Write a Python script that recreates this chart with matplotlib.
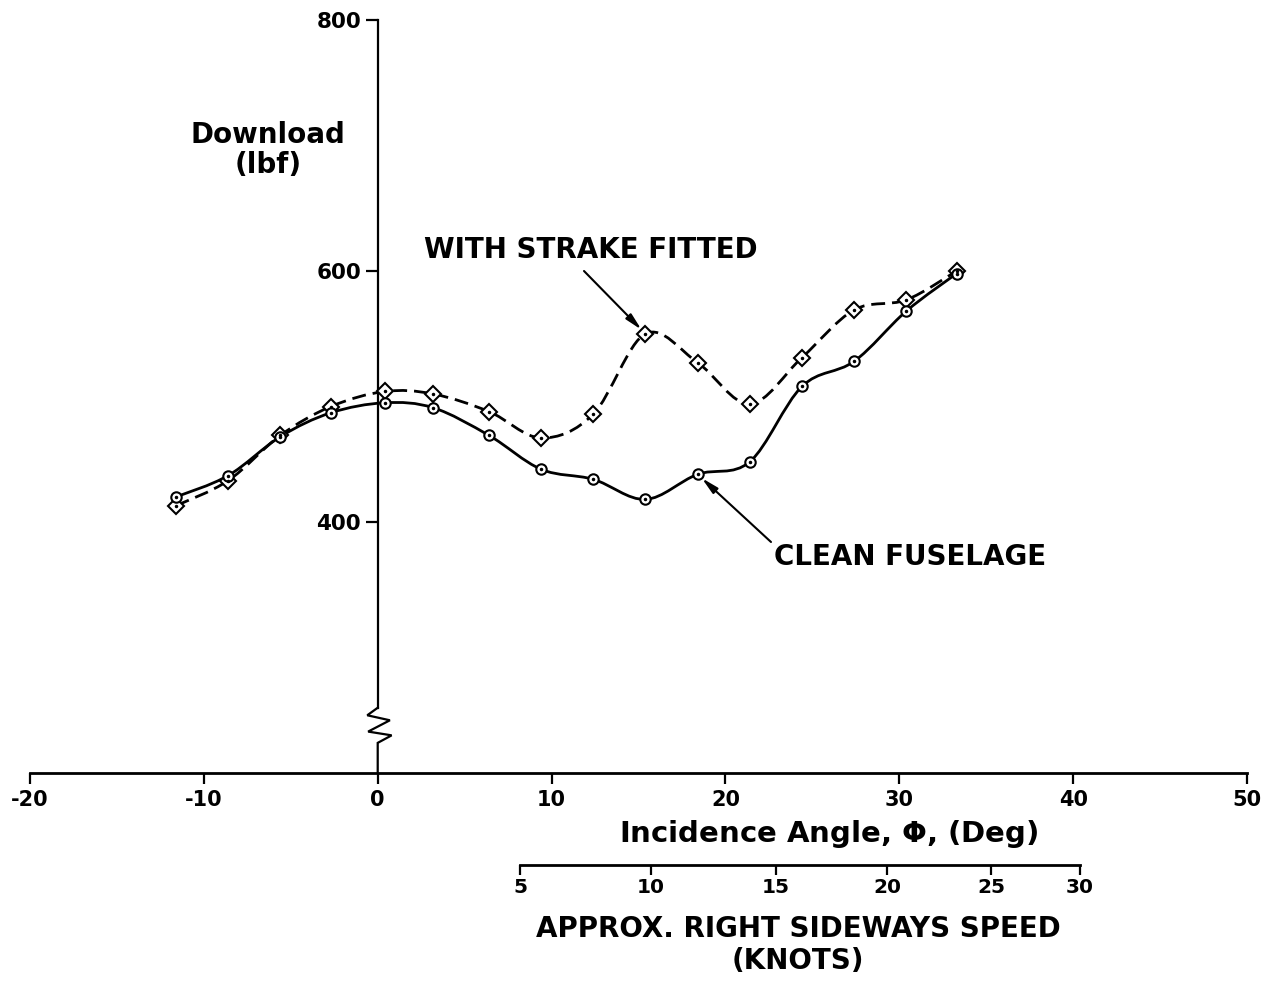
import numpy as np
import matplotlib
matplotlib.use('Agg')
import matplotlib.pyplot as plt
from matplotlib.path import Path
from matplotlib.patches import PathPatch

# incidence angle (deg)
angle = [-11.6, -8.6, -5.6, -2.7, 0.4, 3.2, 6.4, 9.4, 12.4, 15.4, 18.4, 21.4, 24.4, 27.4, 30.4, 33.3]
# download (lbf)
clean = [420, 437, 468, 487, 495, 491, 469, 442, 434, 418, 438, 448, 508, 528, 568, 598]
strake = [413, 433, 469, 492, 504, 502, 488, 467, 486, 550, 527, 494, 531, 569, 577, 600]

xticks = [-20, -10, 0, 10, 20, 30, 40, 50]
yticks = [400, 600, 800]
# sideways speed scale (knots) and where each sits on the angle axis
knots = [5, 10, 15, 20, 25, 30]
knot_angle = [8.2, 15.7, 22.9, 29.3, 35.3, 40.4]

W, H = 1273, 982
plt.rcParams['font.family'] = 'DejaVu Sans'
plt.rcParams['font.weight'] = 'bold'
plt.rcParams['axes.unicode_minus'] = False
fig = plt.figure(figsize=(W / 100, H / 100), dpi=100)


def fx(px):
    return px / W


def fy(py):
    return 1 - py / H


ax = fig.add_axes([fx(30), fy(773), fx(1247) - fx(30), fy(20) - fy(773)])
ax.set_xlim(-20, 50)
ax.set_ylim(200, 800)
for s in ['top', 'right']:
    ax.spines[s].set_visible(False)
ax.spines['bottom'].set_linewidth(2)
ax.spines['left'].set_position(('data', 0))
ax.spines['left'].set_bounds(252, 800)
ax.spines['left'].set_linewidth(1.6)
ax.set_xticks(xticks)
ax.set_yticks(yticks)
ax.tick_params(axis='x', direction='out', length=8, width=1.6, labelsize=15, pad=4)
ax.tick_params(axis='y', direction='out', length=9, width=1.6, labelsize=15.5, pad=3)
for lab in ax.get_xticklabels() + ax.get_yticklabels():
    lab.set_fontweight('bold')

# axis break (zigzag) on the vertical axis
zx = [0, -0.6, 0.7, -0.55, 0.8, 0, 0]
zy = [252, 246, 242, 233, 230, 224, 200]
ax.plot(zx, zy, color='black', lw=1.6, clip_on=False, solid_joinstyle='miter')


def smooth_path(xs, ys):
    # Catmull-Rom through the points, drawn as cubic Bezier segments
    p = np.column_stack([xs, ys]).astype(float)
    pts = np.vstack([p[0], p, p[-1]])
    verts = [p[0]]
    codes = [Path.MOVETO]
    for i in range(1, len(pts) - 2):
        c1 = pts[i] + (pts[i + 1] - pts[i - 1]) / 6
        c2 = pts[i + 1] - (pts[i + 2] - pts[i]) / 6
        verts += [c1, c2, pts[i + 1]]
        codes += [Path.CURVE4] * 3
    return Path(verts, codes)


ax.add_patch(PathPatch(smooth_path(angle, clean), fill=False, lw=2, color='black'))
ax.add_patch(PathPatch(smooth_path(angle, strake), fill=False, lw=2, color='black',
                       linestyle=(0, (5, 2.5))))

ax.plot(angle, strake, 'D', ms=8, mfc='white', mec='black', mew=1.5, zorder=3)
ax.plot(angle, strake, '.', ms=3, color='black', zorder=4)
ax.plot(angle, clean, 'o', ms=7.5, mfc='white', mec='black', mew=1.5, zorder=3)
ax.plot(angle, clean, '.', ms=3, color='black', zorder=4)

# labels
fig.text(fx(268), fy(150), 'Download\n(lbf)', ha='center', va='center',
         fontsize=20, fontweight='bold', linespacing=1.05)
fig.text(fx(591), fy(250), 'WITH STRAKE FITTED', ha='center', va='center',
         fontsize=20, fontweight='bold')
fig.text(fx(910), fy(557), 'CLEAN FUSELAGE', ha='center', va='center',
         fontsize=20, fontweight='bold')
fig.text(fx(829), fy(834), 'Incidence Angle, $\\mathbf{\\Phi}$, (Deg)', ha='center', va='center',
         fontsize=21, fontweight='bold')
fig.text(fx(798), fy(945), 'APPROX. RIGHT SIDEWAYS SPEED\n(KNOTS)', ha='center', va='center',
         fontsize=20, fontweight='bold', linespacing=1.15)

arrow = dict(arrowstyle='-|>,head_length=1.0,head_width=0.22', lw=1.5, color='black',
             shrinkA=0, shrinkB=4)
ax.annotate('', xy=(angle[9], strake[9]), xytext=(fx(584), fy(271)),
            textcoords='figure fraction', arrowprops=arrow)
ax.annotate('', xy=(angle[10], clean[10]), xytext=(fx(771), fy(542)),
            textcoords='figure fraction', arrowprops=arrow)

# sideways speed scale
ax2 = fig.add_axes([fx(30), fy(866), fx(1247) - fx(30), 0.001])
ax2.set_xlim(-20, 50)
ax2.patch.set_visible(False)
for s in ['top', 'right', 'left']:
    ax2.spines[s].set_visible(False)
ax2.spines['bottom'].set_position(('axes', 1.0))
ax2.spines['bottom'].set_bounds(knot_angle[0], knot_angle[-1])
ax2.spines['bottom'].set_linewidth(2)
ax2.set_yticks([])
ax2.set_xticks(knot_angle)
ax2.set_xticklabels([str(k) for k in knots], fontweight='bold')
ax2.tick_params(axis='x', direction='out', length=7, width=1.6, labelsize=14.5, pad=2)

fig.savefig('out.png', dpi=100)
